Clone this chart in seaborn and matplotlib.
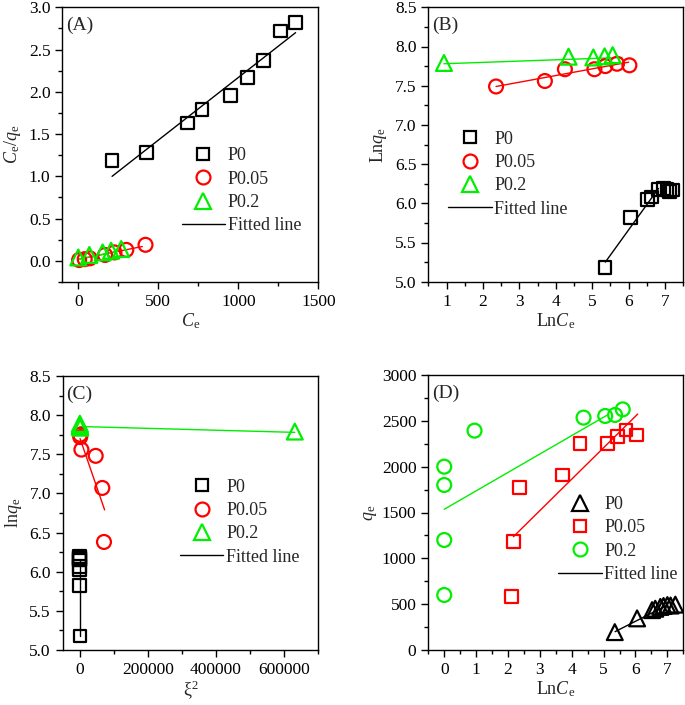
import seaborn as sns
import matplotlib.pyplot as plt
from matplotlib.lines import Line2D
from matplotlib.ticker import MultipleLocator

# (A) Ce/qe vs Ce
a_p0_x = [211, 424, 685, 773, 951, 1055, 1155, 1266, 1358]
a_p0_y = [1.19, 1.28, 1.63, 1.79, 1.96, 2.17, 2.37, 2.72, 2.82]
a_p005_x = [5, 40, 72, 167, 226, 300, 420]
a_p005_y = [0.01, 0.02, 0.03, 0.07, 0.10, 0.13, 0.19]
a_p02_x = [0, 69, 152, 205, 268]
a_p02_y = [0.04, 0.07, 0.10, 0.12, 0.14]
a_fit_p0 = ([211, 1358], [1.00, 2.70])
a_fit_p005 = ([6, 400], [0.02, 0.17])
a_fit_p02 = ([0, 265], [0.02, 0.12])

# (B) Lnqe vs LnCe
b_p0_x = [5.35, 6.05, 6.52, 6.62, 6.83, 6.95, 7.05, 7.12, 7.20]
b_p0_y = [5.18, 5.82, 6.05, 6.08, 6.18, 6.19, 6.18, 6.15, 6.17]
b_p005_x = [2.36, 3.70, 4.25, 5.06, 5.36, 5.68, 6.02]
b_p005_y = [7.49, 7.56, 7.71, 7.71, 7.75, 7.78, 7.76]
b_p02_x = [0.93, 4.35, 5.03, 5.34, 5.56]
b_p02_y = [7.79, 7.87, 7.86, 7.875, 7.89]
b_fit_p0 = ([5.36, 6.82], [5.25, 6.19])
b_fit_p005 = ([2.36, 6.0], [7.49, 7.80])
b_fit_p02 = ([0.93, 5.82], [7.78, 7.86])

# (C) lnqe vs xi^2
c_p0_x = [900, 400, 250, 200, 150, 120, 100, 90, 80]
c_p0_y = [5.18, 5.82, 6.03, 6.07, 6.15, 6.19, 6.18, 6.16, 6.17]
c_p005_x = [1000, 1500, 4900, 46800, 66200, 71100]
c_p005_y = [7.75, 7.72, 7.56, 7.48, 7.07, 6.38]
c_p02_x = [631000, 1200, 600, 400, 300]
c_p02_y = [7.79, 7.84, 7.86, 7.87, 7.89]
c_fit_p0 = ([200, 200], [5.18, 6.15])
c_fit_p005 = ([1000, 73000], [7.70, 6.79])
c_fit_p02 = ([0, 631000], [7.855, 7.78])

# (D) qe vs LnCe
d_p0_x = [5.35, 6.05, 6.52, 6.62, 6.78, 6.88, 7.00, 7.10, 7.25]
d_p0_y = [195, 345, 435, 450, 470, 480, 490, 485, 495]
d_p005_x = [2.12, 2.17, 2.36, 3.71, 4.26, 5.12, 5.43, 5.70, 6.02]
d_p005_y = [582, 1182, 1771, 1909, 2254, 2254, 2327, 2400, 2345]
d_p02_x = [0, 0, 0, 0, 0.95, 4.37, 5.05, 5.36, 5.60]
d_p02_y = [600, 1200, 1800, 2000, 2393, 2535, 2553, 2564, 2625]
d_fit_p0 = ([5.36, 7.0], [200, 490])
d_fit_p005 = ([2.17, 6.07], [1236, 2574])
d_fit_p02 = ([0, 5.1], [1535, 2560])

BLACK, RED, GREEN = "black", "#ff0000", "#00ee00"
MS = {"s": 85, "o": 100, "^": 130}
LMS = {"s": 9, "o": 10, "^": 11}

sns.set_theme(style="ticks")
plt.rcParams.update({
    "font.family": ["Liberation Serif", "DejaVu Serif"],
    "font.size": 12.5,
    "mathtext.fontset": "custom",
    "mathtext.rm": "Liberation Serif",
    "mathtext.it": "Liberation Serif:italic",
    "axes.linewidth": 1.0,
    "axes.edgecolor": "black",
    "xtick.major.size": 5, "ytick.major.size": 5,
    "xtick.minor.size": 3, "ytick.minor.size": 3,
    "xtick.major.width": 1, "ytick.major.width": 1,
    "xtick.minor.width": 1, "ytick.minor.width": 1,
    "xtick.color": "black", "ytick.color": "black",
    "xtick.labelsize": 12.5, "ytick.labelsize": 12.5,
    "axes.labelsize": 13,
})


def draw(ax, series, fits):
    for x, y, m, c in series:
        sns.scatterplot(x=x, y=y, ax=ax, marker=m, s=MS[m], color=c,
                        facecolor="none", edgecolor=c, linewidth=1.6,
                        zorder=3, legend=False)
    for (x, y), c in fits:
        sns.lineplot(x=x, y=y, ax=ax, color=c, linewidth=1.0,
                     estimator=None, sort=False, legend=False, zorder=2)


def add_legend(ax, markers, anchor):
    handles = [Line2D([], [], ls="none", marker=m, mfc="none", mec=c,
                      mew=1.6, ms=LMS[m])
               for m, c in markers]
    handles.append(Line2D([], [], color="black", lw=1.0))
    ax.legend(handles, ["P0", "P0.05", "P0.2", "Fitted line"],
              loc="upper left", bbox_to_anchor=anchor, frameon=False,
              borderaxespad=0, borderpad=0, handlelength=2.4,
              handletextpad=0.15, labelspacing=0.35, fontsize=13)


def style(ax, label, xlim, ylim, xmaj, xmin, ymaj, ymin):
    ax.set_xlim(*xlim)
    ax.set_ylim(*ylim)
    ax.xaxis.set_major_locator(MultipleLocator(xmaj))
    ax.xaxis.set_minor_locator(MultipleLocator(xmin))
    ax.yaxis.set_major_locator(MultipleLocator(ymaj))
    ax.yaxis.set_minor_locator(MultipleLocator(ymin))
    for s in ax.spines.values():
        s.set_visible(True)
    ax.tick_params(which="both", direction="out", top=False, right=False)
    ax.text(0.015, 0.965, label, transform=ax.transAxes, va="top",
            ha="left", fontsize=14)


fig = plt.figure(figsize=(6.85, 7.05), dpi=100)
W, H = 685, 705


def box(l, r, t, b):
    return [l / W, (H - b) / H, (r - l) / W, (b - t) / H]


axA = fig.add_axes(box(62.3, 318.3, 7.3, 282))
axB = fig.add_axes(box(428.3, 683.3, 7.3, 281.7))
axC = fig.add_axes(box(62.7, 318.3, 376, 650))
axD = fig.add_axes(box(428.3, 683.3, 375, 650))

# (A)
draw(axA, [(a_p0_x, a_p0_y, "s", BLACK), (a_p005_x, a_p005_y, "o", RED),
           (a_p02_x, a_p02_y, "^", GREEN)],
     [(a_fit_p0, BLACK), (a_fit_p005, RED), (a_fit_p02, GREEN)])
style(axA, "(A)", (-100, 1500), (-0.25, 3.0), 500, 250, 0.5, 0.25)
axA.set_xlabel(r"$C_{\rm e}$", labelpad=1)
axA.set_ylabel(r"$C_{\rm e}/q_{\rm e}$", labelpad=4)
add_legend(axA, [("s", BLACK), ("o", RED), ("^", GREEN)], (0.466, 0.49))

# (B)
draw(axB, [(b_p0_x, b_p0_y, "s", BLACK), (b_p005_x, b_p005_y, "o", RED),
           (b_p02_x, b_p02_y, "^", GREEN)],
     [(b_fit_p0, BLACK), (b_fit_p005, RED), (b_fit_p02, GREEN)])
style(axB, "(B)", (0.5, 7.5), (5.0, 8.5), 1, 0.5, 0.5, 0.25)
axB.set_xlabel(r"Ln$C_{\rm e}$", labelpad=1)
axB.set_ylabel(r"Ln$q_{\rm e}$", labelpad=4)
add_legend(axB, [("s", BLACK), ("o", RED), ("^", GREEN)], (0.078, 0.55))

# (C)
draw(axC, [(c_p0_x, c_p0_y, "s", BLACK), (c_p005_x, c_p005_y, "o", RED),
           (c_p02_x, c_p02_y, "^", GREEN)],
     [(c_fit_p0, BLACK), (c_fit_p005, RED), (c_fit_p02, GREEN)])
style(axC, "(C)", (-50000, 700000), (5.0, 8.5), 200000, 100000, 0.5, 0.25)
axC.set_xlabel("ξ$^{2}$", labelpad=1)
axC.set_ylabel(r"ln$q_{\rm e}$", labelpad=4)
add_legend(axC, [("s", BLACK), ("o", RED), ("^", GREEN)], (0.459, 0.625))

# (D)
draw(axD, [(d_p0_x, d_p0_y, "^", BLACK), (d_p005_x, d_p005_y, "s", RED),
           (d_p02_x, d_p02_y, "o", GREEN)],
     [(d_fit_p0, BLACK), (d_fit_p005, RED), (d_fit_p02, GREEN)])
style(axD, "(D)", (-0.5, 7.5), (0, 3000), 1, 0.5, 500, 250)
axD.set_xlabel(r"Ln$C_{\rm e}$", labelpad=1)
axD.set_ylabel(r"$q_{\rm e}$", labelpad=2)
add_legend(axD, [("^", BLACK), ("s", RED), ("o", GREEN)], (0.51, 0.56))

fig.savefig("out.png", dpi=100)
